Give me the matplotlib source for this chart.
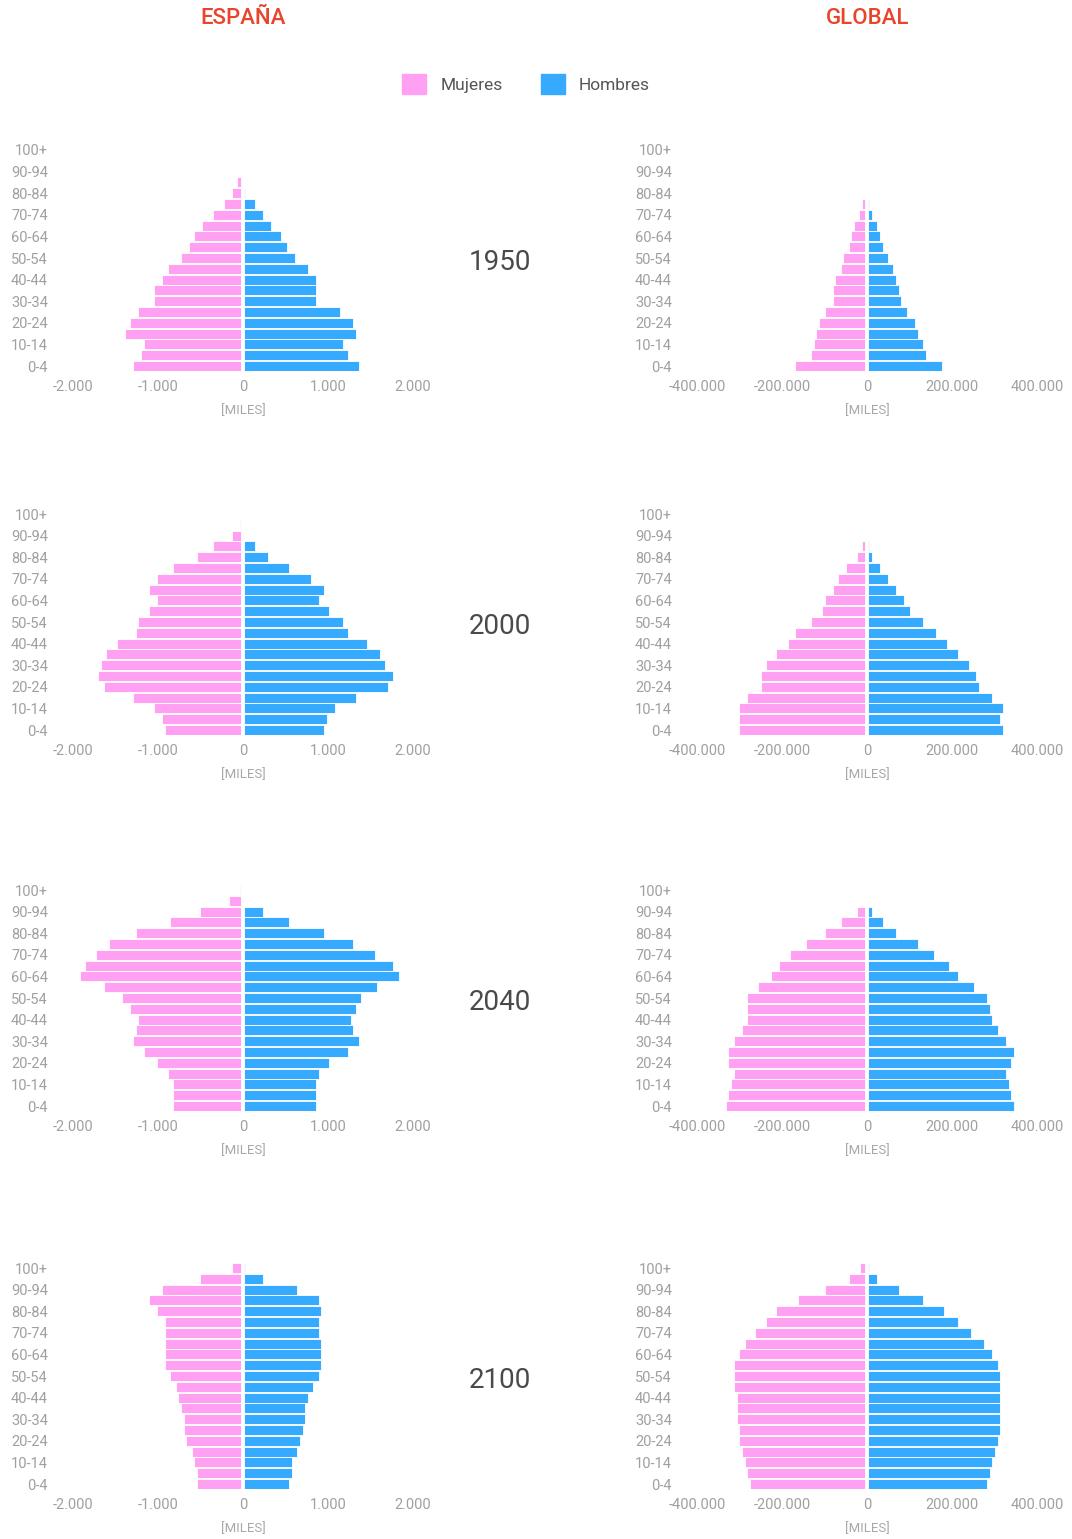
import numpy as np
import matplotlib.pyplot as plt
from matplotlib.patches import Patch
from matplotlib.ticker import FuncFormatter

plt.rcParams['font.family'] = ['Roboto', 'DejaVu Sans']

ages = ['0-4', '5-9', '10-14', '15-19', '20-24', '25-29', '30-34', '35-39',
        '40-44', '45-49', '50-54', '55-59', '60-64', '65-69', '70-74',
        '75-79', '80-84', '85-89', '90-94', '95-99', '100+']
years = ['1950', '2000', '2040', '2100']

# Spain, thousands (mujeres / hombres), from 0-4 up to 100+
esp_1950_m = [1294, 1200, 1169, 1388, 1325, 1231, 1043, 1043, 949, 886, 729, 635, 573, 478, 353, 227, 133, 70, 0, 0, 0]
esp_1950_h = [1361, 1235, 1173, 1329, 1298, 1141, 859, 859, 859, 765, 608, 514, 451, 325, 231, 137, 20, 0, 0, 0, 0]
esp_2000_m = [918, 949, 1043, 1294, 1639, 1702, 1671, 1608, 1482, 1263, 1231, 1106, 1012, 1106, 1012, 824, 541, 353, 133, 35, 0]
esp_2000_h = [953, 984, 1078, 1329, 1706, 1769, 1675, 1612, 1455, 1235, 1173, 1016, 890, 953, 796, 545, 294, 137, 15, 0, 0]
esp_2040_m = [824, 824, 824, 886, 1012, 1169, 1294, 1263, 1231, 1325, 1420, 1639, 1922, 1859, 1733, 1576, 1263, 855, 510, 161, 39]
esp_2040_h = [859, 859, 859, 890, 1016, 1235, 1361, 1298, 1267, 1329, 1392, 1580, 1831, 1769, 1549, 1298, 953, 545, 231, 15, 0]
esp_2100_m = [541, 541, 573, 604, 667, 698, 698, 729, 761, 792, 855, 918, 918, 918, 918, 918, 1012, 1106, 949, 510, 133]
esp_2100_h = [545, 576, 576, 639, 671, 702, 733, 733, 765, 827, 890, 922, 922, 922, 890, 890, 922, 890, 639, 231, 20]

# World, thousands
glob_1950_m = [169000, 131000, 125000, 119000, 113000, 100000, 81000, 81000, 75000, 62000, 56000, 43000, 37000, 31000, 18000, 12000, 5000, 0, 0, 0, 0]
glob_1950_h = [176000, 138000, 131000, 119000, 113000, 94000, 81000, 75000, 69000, 62000, 50000, 37000, 31000, 24000, 12000, 5500, 0, 0, 0, 0, 0]
glob_2000_m = [301000, 301000, 301000, 282000, 250000, 250000, 238000, 213000, 187000, 169000, 131000, 106000, 99000, 80000, 68000, 49000, 24000, 11000, 4000, 0, 0]
glob_2000_h = [320000, 314000, 320000, 295000, 264000, 257000, 239000, 213000, 188000, 163000, 131000, 100000, 87000, 69000, 50000, 31000, 12000, 5500, 0, 0, 0]
glob_2040_m = [332000, 326000, 320000, 313000, 326000, 326000, 313000, 294000, 282000, 282000, 282000, 257000, 225000, 206000, 181000, 143000, 99000, 61000, 24000, 4000, 0]
glob_2040_h = [346000, 339000, 333000, 327000, 339000, 346000, 327000, 308000, 295000, 289000, 283000, 251000, 213000, 194000, 157000, 119000, 69000, 37000, 12000, 0, 0]
glob_2100_m = [276000, 282000, 288000, 294000, 301000, 301000, 307000, 307000, 307000, 313000, 313000, 313000, 301000, 288000, 263000, 238000, 213000, 162000, 99000, 43000, 17000]
glob_2100_h = [283000, 289000, 295000, 302000, 308000, 314000, 314000, 314000, 314000, 314000, 314000, 308000, 295000, 276000, 245000, 213000, 182000, 131000, 75000, 24000, 5500]

esp = [(esp_1950_m, esp_1950_h), (esp_2000_m, esp_2000_h),
       (esp_2040_m, esp_2040_h), (esp_2100_m, esp_2100_h)]
glob = [(glob_1950_m, glob_1950_h), (glob_2000_m, glob_2000_h),
        (glob_2040_m, glob_2040_h), (glob_2100_m, glob_2100_h)]

pink = '#FFA0F2'
blue = '#36AAFF'
grey = '#A0A0A0'
red = '#E8452C'

W, H = 1072, 1539
fig = plt.figure(figsize=(W / 100, H / 100), dpi=100)

def dots(v, pos):
    s = '{:,.0f}'.format(abs(v)).replace(',', '.')
    return ('-' + s) if v < 0 else s

row_bottom = [366, 730, 1106, 1484]   # pixel y of 0-4 row centre
step = 10.8
y = np.arange(len(ages))

for r in range(4):
    for c, (data, lim, x0) in enumerate([(esp, 2000, 73), (glob, 400000, 697)]):
        bot = row_bottom[r] + step / 2
        top = bot - step * 21
        ax = fig.add_axes([x0 / W, 1 - bot / H, 340 / W, (bot - top) / H])
        m, h = data[r]
        ax.barh(y, -np.array(m), height=0.92, color=pink, edgecolor='white', linewidth=0.6)
        ax.barh(y, h, height=0.92, color=blue, edgecolor='white', linewidth=0.6)
        ax.axvline(0, color='white', lw=2.8)
        ax.set_xlim(-lim, lim)
        ax.set_ylim(-0.5, 20.5)
        ax.set_xticks([-lim, -lim / 2, 0, lim / 2, lim])
        ax.xaxis.set_major_formatter(FuncFormatter(dots))
        ax.set_yticks(y[::2])
        ax.set_yticklabels(ages[::2])
        ax.tick_params(axis='y', length=0, pad=18, labelsize=10.5, labelcolor=grey)
        ax.tick_params(axis='x', length=0, pad=6, labelsize=10.5, labelcolor=grey)
        for s in ax.spines.values():
            s.set_visible(False)
        fig.text((x0 + 170) / W, 1 - (row_bottom[r] + 45) / H, '[MILES]',
                 ha='center', va='center', fontsize=9.5, color='#A8A8A8')
    fig.text(500 / W, 1 - (row_bottom[r] - 103) / H, years[r],
             ha='center', va='center', fontsize=20, color='#4A4A4A')

fig.text(243 / W, 1 - 18 / H, 'ESPAÑA', ha='center', va='center',
         fontsize=16, color=red, fontweight='medium')
fig.text(868 / W, 1 - 18 / H, 'GLOBAL', ha='center', va='center',
         fontsize=16, color=red, fontweight='medium')

handles = [Patch(color=pink, label='Mujeres'), Patch(color=blue, label='Hombres')]
fig.legend(handles=handles, loc='center', bbox_to_anchor=(526 / W, 1 - 84 / H),
           ncol=2, frameon=False, fontsize=12.5, handlelength=1.4, handleheight=1.4,
           columnspacing=2.2, handletextpad=0.8, labelcolor='#555555')

fig.savefig('out.png', dpi=100, facecolor='white')
